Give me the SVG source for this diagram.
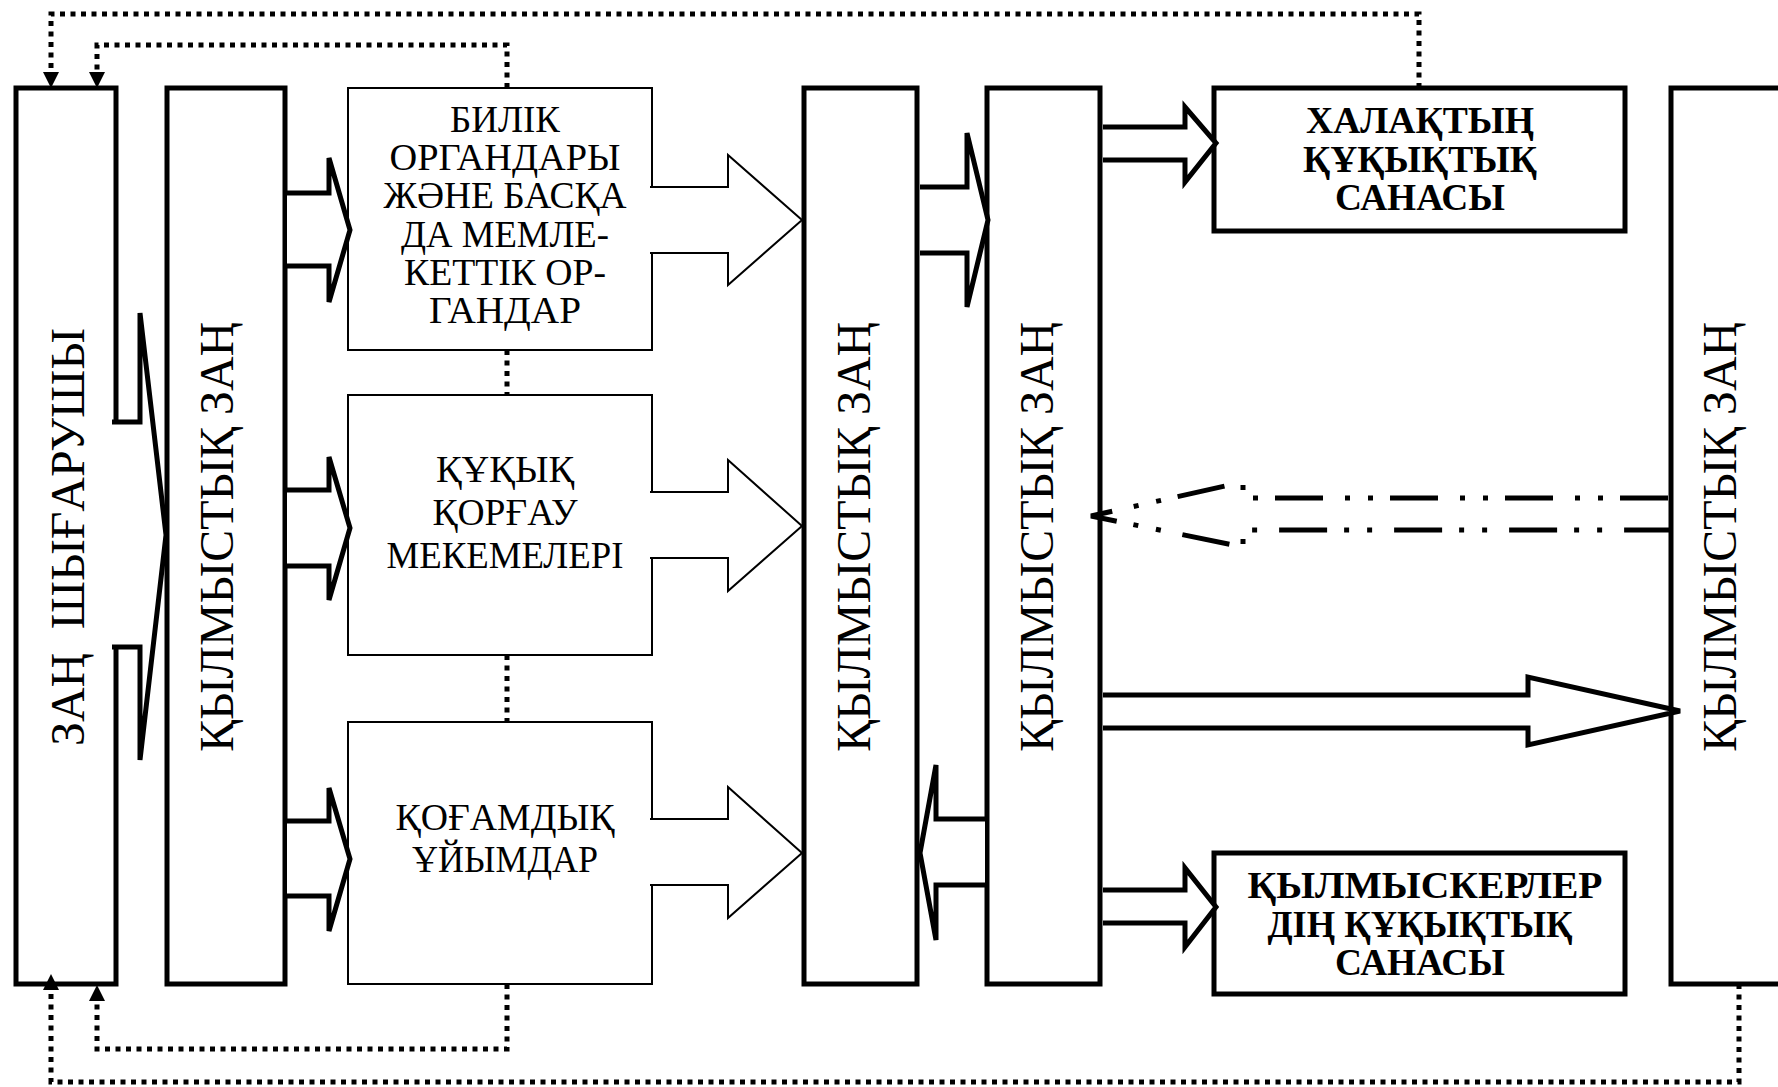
<svg xmlns="http://www.w3.org/2000/svg" width="1778" height="1087" viewBox="0 0 1778 1087">
<style>
.box{fill:#fff;stroke:#000;stroke-width:5}
.tbox{fill:#fff;stroke:#000;stroke-width:2}
.thick{fill:#fff;stroke:#000;stroke-width:5;stroke-linejoin:miter}
.thin{fill:#fff;stroke:#000;stroke-width:2}
.dot{fill:none;stroke:#000;stroke-width:5;stroke-dasharray:5 5.5}
.dd{fill:none;stroke:#000;stroke-width:5;stroke-dasharray:48 17 5 18 5 22}
text{font-family:"Liberation Serif","DejaVu Serif",serif;fill:#000}
.rt{font-size:48px;text-anchor:middle}
.mt{font-size:37px;text-anchor:middle}
.bt{font-size:37px;font-weight:bold;text-anchor:middle}
</style>
<defs>
<marker id="ah" viewBox="0 0 16 16" markerWidth="16" markerHeight="16" refX="0" refY="8" orient="auto" markerUnits="userSpaceOnUse">
<path d="M0,0 L16,8 L0,16 z" fill="#000"/>
</marker>
</defs>
<rect width="1778" height="1087" fill="#fff"/>

<g id="n-zan-shygarushy">
<rect class="box" x="16" y="88" width="100" height="896"/>
<text class="rt" transform="translate(84,537) rotate(-90)" xml:space="preserve" textLength="418" lengthAdjust="spacingAndGlyphs">ЗАҢ  ШЫҒАРУШЫ</text>
</g>
<g id="n-zan-1">
<rect class="box" x="167" y="88" width="118" height="896"/>
<text class="rt" transform="translate(233,537) rotate(-90)" textLength="430" lengthAdjust="spacingAndGlyphs">ҚЫЛМЫСТЫҚ ЗАҢ</text>
</g>
<g id="n-bilik">
<rect class="tbox" x="348" y="88" width="304" height="262"/>
<text class="mt" x="505" y="132" textLength="110" lengthAdjust="spacingAndGlyphs">БИЛІК</text>
<text class="mt" x="505" y="170" textLength="231" lengthAdjust="spacingAndGlyphs">ОРГАНДАРЫ</text>
<text class="mt" x="505" y="208" textLength="243" lengthAdjust="spacingAndGlyphs">ЖӘНЕ БАСҚА</text>
<text class="mt" x="505" y="247" textLength="208" lengthAdjust="spacingAndGlyphs">ДА МЕМЛЕ-</text>
<text class="mt" x="505" y="285" textLength="202" lengthAdjust="spacingAndGlyphs">КЕТТІК ОР-</text>
<text class="mt" x="505" y="323" textLength="152" lengthAdjust="spacingAndGlyphs">ГАНДАР</text>
</g>
<g id="n-kukyk">
<rect class="tbox" x="348" y="395" width="304" height="260"/>
<text class="mt" x="505" y="482" textLength="138" lengthAdjust="spacingAndGlyphs">ҚҰҚЫҚ</text>
<text class="mt" x="505" y="525" textLength="145" lengthAdjust="spacingAndGlyphs">ҚОРҒАУ</text>
<text class="mt" x="505" y="568" textLength="237" lengthAdjust="spacingAndGlyphs">МЕКЕМЕЛЕРІ</text>
</g>
<g id="n-kogamdyk">
<rect class="tbox" x="348" y="722" width="304" height="262"/>
<text class="mt" x="505" y="830" textLength="219" lengthAdjust="spacingAndGlyphs">ҚОҒАМДЫҚ</text>
<text class="mt" x="505" y="872" textLength="186" lengthAdjust="spacingAndGlyphs">ҰЙЫМДАР</text>
</g>
<g id="n-zan-2">
<rect class="box" x="804" y="88" width="113" height="896"/>
<text class="rt" transform="translate(870,537) rotate(-90)" textLength="430" lengthAdjust="spacingAndGlyphs">ҚЫЛМЫСТЫҚ ЗАҢ</text>
</g>
<g id="n-zan-3">
<rect class="box" x="987" y="88" width="113" height="896"/>
<text class="rt" transform="translate(1053,537) rotate(-90)" textLength="430" lengthAdjust="spacingAndGlyphs">ҚЫЛМЫСТЫҚ ЗАҢ</text>
</g>
<g id="n-halyk">
<rect class="box" x="1214" y="88" width="411" height="143"/>
<text class="bt" x="1420" y="133" textLength="228" lengthAdjust="spacingAndGlyphs">ХАЛАҚТЫҢ</text>
<text class="bt" x="1420" y="172" textLength="234" lengthAdjust="spacingAndGlyphs">ҚҰҚЫҚТЫҚ</text>
<text class="bt" x="1420" y="210" textLength="170" lengthAdjust="spacingAndGlyphs">САНАСЫ</text>
</g>
<g id="n-kylmyskerler">
<rect class="box" x="1214" y="853" width="411" height="141"/>
<text class="bt" x="1425" y="898" textLength="355" lengthAdjust="spacingAndGlyphs">ҚЫЛМЫСКЕРЛЕР</text>
<text class="bt" x="1420" y="937" textLength="305" lengthAdjust="spacingAndGlyphs">ДІҢ ҚҰҚЫҚТЫҚ</text>
<text class="bt" x="1420" y="975" textLength="170" lengthAdjust="spacingAndGlyphs">САНАСЫ</text>
</g>
<g id="n-zan-4">
<rect class="box" x="1671" y="88" width="200" height="896"/>
<text class="rt" transform="translate(1736,537) rotate(-90)" textLength="430" lengthAdjust="spacingAndGlyphs">ҚЫЛМЫСТЫҚ ЗАҢ</text>
</g>

<g id="connectors">
<path class="thick" d="M112 422 H140 V313 L166 535 L140 760 V647 H112"/>
<path class="thick" d="M287 193 H329 V158 L350 230 L329 302 V266 H287"/>
<path class="thick" d="M287 490 H329 V457 L350 528 L329 600 V566 H287"/>
<path class="thick" d="M287 821 H329 V788 L350 859 L329 931 V896 H287"/>
<path class="thin" d="M650 187 H728 V155 L802 220 L728 285 V253 H650"/>
<path class="thin" d="M650 492 H728 V460 L802 526 L728 591 V558 H650"/>
<path class="thin" d="M650 819 H728 V787 L802 853 L728 918 V885 H650"/>
<path class="thick" d="M920 187 H967 V133 L988 220 L967 307 V253 H920"/>
<path class="thick" d="M985 819 H936 V765 L920 853 L936 940 V885 H985"/>
<path class="thick" d="M1103 127 H1185 V107 L1216 143 L1185 182 V160 H1103"/>
<path class="thick" d="M1103 890 H1185 V868 L1216 907 L1185 947 V923 H1103"/>
<path class="thick" d="M1103 695 H1528 V677 L1680 711 L1528 745 V728 H1103"/>
<path class="dd" d="M1668 498 H1243 V482 L1091 516 L1243 547 V530 H1671"/>
<path class="dot" d="M1419 88 V14 H51 V72" marker-end="url(#ah)"/>
<path class="dot" d="M507 88 V45 H97 V72" marker-end="url(#ah)"/>
<path class="dot" d="M507 984 V1049 H97 V1001" marker-end="url(#ah)"/>
<path class="dot" d="M1739 984 V1082 H51 V990" marker-end="url(#ah)"/>
<path class="dot" d="M507 350 V395"/>
<path class="dot" d="M507 655 V722"/>
</g>
</svg>
